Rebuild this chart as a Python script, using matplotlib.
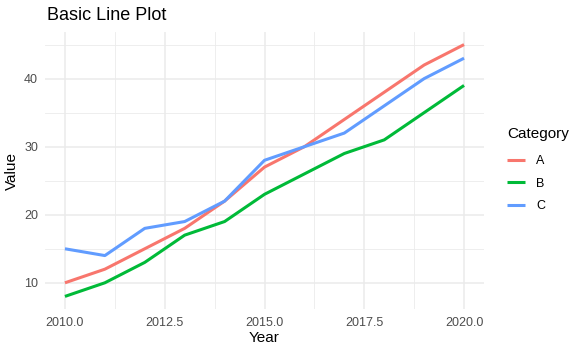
import matplotlib
matplotlib.use("Agg")
import matplotlib.pyplot as plt
from matplotlib.ticker import MultipleLocator

plt.rcParams['font.family'] = ['Liberation Sans', 'DejaVu Sans']

years = [2010, 2011, 2012, 2013, 2014, 2015, 2016, 2017, 2018, 2019, 2020]
val_a = [10, 12, 15, 18, 22, 27, 30, 34, 38, 42, 45]
val_b = [8, 10, 13, 17, 19, 23, 26, 29, 31, 35, 39]
val_c = [15, 14, 18, 19, 22, 28, 30, 32, 36, 40, 43]
categories = ['A', 'B', 'C']
colors = ['#F8766D', '#00BA38', '#619CFF']

W, H = 581, 355
fig = plt.figure(figsize=(W / 100, H / 100), dpi=100)
ax = fig.add_axes([45 / W, (H - 309) / H, (484 - 45) / W, (309 - 32) / H])

for name, vals, col in zip(categories, [val_a, val_b, val_c], colors):
    ax.plot(years, vals, color=col, lw=2.2, label=name, solid_capstyle='butt')

ax.set_xlim(2009.5, 2020.5)
ax.set_ylim(6.15, 46.85)
ax.xaxis.set_major_locator(MultipleLocator(2.5))
ax.xaxis.set_minor_locator(MultipleLocator(1.25))
ax.yaxis.set_major_locator(MultipleLocator(10))
ax.yaxis.set_minor_locator(MultipleLocator(5))
ax.set_xticks([2010, 2012.5, 2015, 2017.5, 2020])
ax.set_xticklabels(['2010.0', '2012.5', '2015.0', '2017.5', '2020.0'])

ax.grid(which='major', color='#EBEBEB', lw=1.1)
ax.grid(which='minor', color='#EBEBEB', lw=0.6)
ax.set_axisbelow(True)
for s in ax.spines.values():
    s.set_visible(False)
ax.tick_params(which='both', length=0, colors='#4D4D4D', labelsize=9)
ax.tick_params(axis='x', pad=6)
ax.tick_params(axis='y', pad=5)

ax.set_xlabel('Year', fontsize=11, labelpad=1)
ax.set_ylabel('Value', fontsize=11, labelpad=4)
fig.text(47 / W, 1 - 16 / H, 'Basic Line Plot', fontsize=13, va='center', ha='left')

# legend: title as separate text, entries below it
fig.text(507 / W, 1 - 134 / H, 'Category', fontsize=11, va='center', ha='left')
leg = ax.legend(loc='upper left', bbox_to_anchor=(507 / W, 1 - 155 / H),
                bbox_transform=fig.transFigure, borderaxespad=0, borderpad=0,
                frameon=False, fontsize=9, handlelength=1.45, handletextpad=0.9,
                labelspacing=0.85)

fig.savefig('out.png', dpi=100)
